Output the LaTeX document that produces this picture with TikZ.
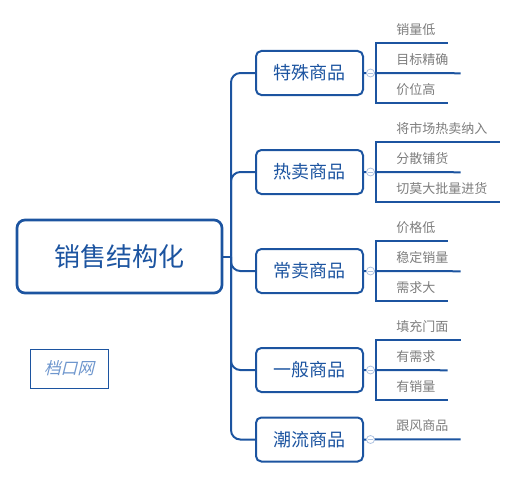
\documentclass[tikz,border=0pt]{standalone}
\usepackage{fontspec}
\newfontfamily\cjk{Noto Sans CJK SC}
\newfontfamily\wmfont[FakeSlant=0.25]{Noto Sans CJK SC}
\definecolor{mapblue}{RGB}{28,84,160}
\definecolor{leafgray}{RGB}{125,125,125}
\definecolor{knobblue}{RGB}{175,195,225}
\definecolor{wmblue}{RGB}{110,150,205}
\tikzset{
	rootbox/.style={draw=mapblue, line width=2pt, rounded corners=6pt, minimum width=153.75pt, minimum height=54.75pt, text=mapblue, font=\cjk\fontsize{19.5pt}{22pt}\selectfont},
	topic/.style={draw=mapblue, line width=1.5pt, rounded corners=4pt, minimum width=80.25pt, minimum height=33pt, text=mapblue, font=\cjk\fontsize{13.5pt}{16pt}\selectfont},
	leaf/.style={anchor=west, inner xsep=9pt, inner ysep=0pt, minimum height=19.5pt, text=leafgray, font=\cjk\fontsize{9.75pt}{12pt}\selectfont},
	knob/.style={circle, draw=knobblue, fill=white, line width=0.6pt, minimum size=6pt, inner sep=0pt, path picture={\draw[knobblue, line width=0.6pt] ([xshift=-1.8pt]path picture bounding box.center) -- ([xshift=1.8pt]path picture bounding box.center);}},
	link/.style={draw=mapblue, line width=1.5pt},
}
\begin{document}
\begin{tikzpicture}[x=0.75pt, y=-0.75pt]
	\useasboundingbox (0,0) rectangle (516,478);
	\node[rootbox] (root) at (119.5,256.5) {销售结构化};
	\coordinate (trunk) at (231,256.5);
	\node[topic] (t1) at (309.5,73) {特殊商品};
	\node[topic] (t2) at (309.5,172) {热卖商品};
	\node[topic] (t3) at (309.5,271) {常卖商品};
	\node[topic] (t4) at (309.5,370) {一般商品};
	\node[topic] (t5) at (309.5,439.5) {潮流商品};
	\draw[link] (root.east) -- (trunk);
	\draw[link, rounded corners=7pt] (trunk) |- (t1.west);
	\draw[link, rounded corners=7pt] (trunk) |- (t2.west);
	\draw[link, rounded corners=7pt] (trunk) |- (t3.west);
	\draw[link, rounded corners=7pt] (trunk) |- (t4.west);
	\draw[link, rounded corners=7pt] (trunk) |- (t5.west);

	\coordinate (k1) at (376,73);
	\node[leaf] (a11) at (384,30) {销量低};
	\node[leaf] (a12) at (384,60) {目标精确};
	\node[leaf] (a13) at (384,90) {价位高};
	\coordinate (k2) at (376,172);
	\node[leaf] (a21) at (384,129) {将市场热卖纳入};
	\node[leaf] (a22) at (384,159) {分散铺货};
	\node[leaf] (a23) at (384,189) {切莫大批量进货};
	\coordinate (k3) at (376,271);
	\node[leaf] (a31) at (384,228) {价格低};
	\node[leaf] (a32) at (384,258) {稳定销量};
	\node[leaf] (a33) at (384,288) {需求大};
	\coordinate (k4) at (376,370);
	\node[leaf] (a41) at (384,327) {填充门面};
	\node[leaf] (a42) at (384,357) {有需求};
	\node[leaf] (a43) at (384,387) {有销量};
	\node[leaf] (a51) at (384,426) {跟风商品};

	\draw[link] (a11.south east) -| (a13.south -| k1) -- (a13.south east);
	\draw[link] (a21.south east) -| (a23.south -| k2) -- (a23.south east);
	\draw[link] (a31.south east) -| (a33.south -| k3) -- (a33.south east);
	\draw[link] (a41.south east) -| (a43.south -| k4) -- (a43.south east);
	\draw[link] (t1.east) -- (a12.south east);
	\draw[link] (t2.east) -- (a22.south east);
	\draw[link] (t3.east) -- (a32.south east);
	\draw[link] (t4.east) -- (a42.south east);
	\draw[link] (t5.east) -- (a51.south east);
	\node[knob] (c1) at (370.5,73) {};
	\node[knob] (c2) at (370.5,172) {};
	\node[knob] (c3) at (370.5,271) {};
	\node[knob] (c4) at (370.5,370) {};
	\node[knob] (c5) at (370.5,439.5) {};

	\node[draw=mapblue, line width=0.6pt, minimum width=58.5pt, minimum height=29.25pt, text=wmblue, font=\wmfont\fontsize{12.5pt}{14pt}\selectfont] (mark) at (69,368.5) {档口网};
\end{tikzpicture}
\end{document}
